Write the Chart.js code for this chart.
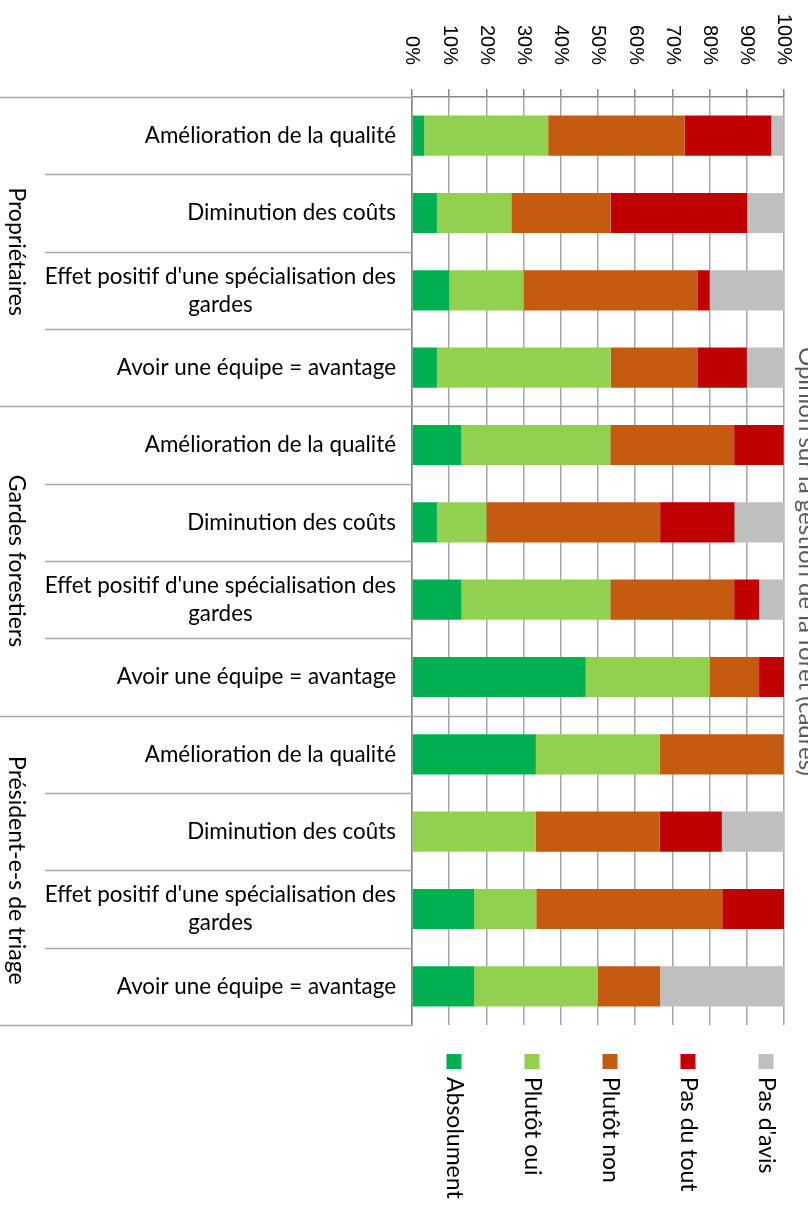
<!DOCTYPE html>
<html>
<head>
<meta charset="utf-8">
<script src="https://cdn.jsdelivr.net/npm/chart.js@4/dist/chart.umd.min.js"></script>
<style>
  html, body { margin: 0; padding: 0; background: #fff; }
</style>
</head>
<body>
<canvas id="chart" width="808" height="1211"></canvas>
<script>
const groups = ['Propriétaires', 'Gardes forestiers', 'Président-e-s de triage'];
const items = [
    ['Amélioration de la qualité'],
    ['Diminution des coûts'],
    ["Effet positif d'une spécialisation des", 'gardes'],
    ['Avoir une équipe = avantage'],
];
const categories = groups.flatMap(g => items.map(it => g + ' – ' + it.join(' ')));
const seriesNames = ['Absolument', 'Plutôt oui', 'Plutôt non', 'Pas du tout', "Pas d'avis"];
const seriesColors = ['#00B050', '#92D050', '#C55A11', '#C00000', '#BFBFBF'];

// shares in %, one value per category (top to bottom)
const absolument = [3.3, 6.7, 10, 6.7, 13.3, 6.7, 13.3, 46.7, 33.3, 0, 16.7, 16.7];
const plutotOui  = [33.3, 20, 20, 46.7, 40, 13.3, 40, 33.3, 33.3, 33.3, 16.7, 33.3];
const plutotNon  = [36.7, 26.7, 46.7, 23.3, 33.3, 46.7, 33.3, 13.3, 33.3, 33.3, 50, 16.7];
const pasDuTout  = [23.3, 36.7, 3.3, 13.3, 13.3, 20, 6.7, 6.7, 0, 16.7, 16.7, 0];
const pasDAvis   = [3.3, 10, 20, 10, 0, 13.3, 6.7, 0, 0, 16.7, 0, 33.3];
const xTicks = [0, 10, 20, 30, 40, 50, 60, 70, 80, 90, 100];
const chartTitle = 'Opinion sur la gestion de la forêt (cadres)';

const LABEL_FONT = '"Lato", "Open Sans", sans-serif';
const LINE = '#a6a6a6';

// Everything Excel drew sideways (ticks, group names, legend) plus the
// two-level category labels and their separators.
const overlay = {
    id: 'overlay',
    beforeDatasetsDraw(chart) {
        const { ctx, chartArea: a, scales: { y } } = chart;
        ctx.save();
        ctx.strokeStyle = LINE;
        ctx.lineWidth = 1.5;
        for (let i = 0; i <= categories.length; i++) {
            const py = Math.round(y.getPixelForValue(i - 0.5)) + 0.5;
            const startX = i % items.length === 0 ? 0 : 45;
            ctx.beginPath();
            ctx.moveTo(startX, py);
            // group boundaries also run across the plot
            const endX = (i % items.length === 0 && i > 0 && i < categories.length) ? a.right : a.left;
            ctx.lineTo(endX, py);
            ctx.stroke();
        }
        ctx.restore();
    },
    afterDraw(chart) {
        const { ctx, chartArea: a, scales: { x, y } } = chart;
        ctx.save();
        ctx.fillStyle = '#000';

        // value ticks, rotated to read top-to-bottom
        ctx.font = '20px "Liberation Sans", Arial, sans-serif';
        xTicks.forEach(v => {
            ctx.save();
            ctx.translate(x.getPixelForValue(v), a.top - 32);
            ctx.rotate(Math.PI / 2);
            ctx.textAlign = 'right';
            ctx.textBaseline = 'middle';
            ctx.fillText(v + '%', 0, 0);
            ctx.restore();
        });

        // category labels: block right-aligned, lines centred within it
        ctx.font = '22.4px ' + LABEL_FONT;
        ctx.textBaseline = 'middle';
        ctx.textAlign = 'center';
        const labelRight = a.left - 16;
        categories.forEach((_, i) => {
            const lines = items[i % items.length];
            const w = Math.max(...lines.map(l => ctx.measureText(l).width));
            const cx = labelRight - w / 2;
            const cy = y.getPixelForValue(i);
            const lh = 28;
            lines.forEach((l, k) => {
                ctx.fillText(l, cx, cy + (k - (lines.length - 1) / 2) * lh);
            });
        });

        // group names, sideways
        ctx.font = '23px ' + LABEL_FONT;
        groups.forEach((g, gi) => {
            const top = y.getPixelForValue(gi * items.length - 0.5);
            const bottom = y.getPixelForValue((gi + 1) * items.length - 0.5);
            ctx.save();
            ctx.translate(9, (top + bottom) / 2);
            ctx.rotate(Math.PI / 2);
            ctx.textAlign = 'center';
            ctx.textBaseline = 'alphabetic';
            ctx.fillText(g, 0, 0);
            ctx.restore();
        });

        // legend: square above a sideways label
        seriesNames.forEach((name, i) => {
            const cx = 454 + i * 78;
            ctx.fillStyle = seriesColors[i];
            ctx.fillRect(cx - 7.5, a.bottom + 29, 15, 15);
            ctx.fillStyle = '#000';
            ctx.save();
            ctx.translate(cx, a.bottom + 52);
            ctx.rotate(Math.PI / 2);
            ctx.textAlign = 'left';
            ctx.textBaseline = 'middle';
            ctx.fillText(name, 0, 0);
            ctx.restore();
        });

        // title, mostly off the right edge in the original
        ctx.fillStyle = '#595959';
        ctx.font = '24px ' + LABEL_FONT;
        ctx.save();
        ctx.translate(799, 776);
        ctx.rotate(Math.PI / 2);
        ctx.textAlign = 'right';
        ctx.textBaseline = 'alphabetic';
        ctx.fillText(chartTitle, 0, 0);
        ctx.restore();

        ctx.restore();
    },
};

const seriesData = [absolument, plutotOui, plutotNon, pasDuTout, pasDAvis];

new Chart(document.getElementById('chart'), {
    type: 'bar',
    data: {
        labels: categories,
        datasets: seriesNames.map((name, i) => ({
            label: name,
            data: seriesData[i],
            backgroundColor: seriesColors[i],
            borderWidth: 0,
            barPercentage: 0.52,
            categoryPercentage: 1,
        })),
    },
    options: {
        indexAxis: 'y',
        responsive: false,
        animation: false,
        devicePixelRatio: 1,
        layout: { padding: { top: 89, right: 24, bottom: 186, left: 0 } },
        plugins: {
            legend: { display: false },
            tooltip: { enabled: false },
        },
        scales: {
            x: {
                position: 'top',
                stacked: true,
                min: 0,
                max: 100,
                ticks: { display: false, stepSize: 10 },
                grid: { color: LINE, lineWidth: 1.5, drawTicks: true, tickLength: 8, tickColor: '#868686' },
                border: { display: true, color: '#868686', width: 1.5 },
                afterFit(s) { s.height = 8; },
            },
            y: {
                stacked: true,
                ticks: { display: false },
                grid: { display: false },
                border: { display: true, color: '#868686', width: 1.5 },
                afterFit(s) { s.width = 412; },
            },
        },
    },
    plugins: [overlay],
});
</script>
</body>
</html>
